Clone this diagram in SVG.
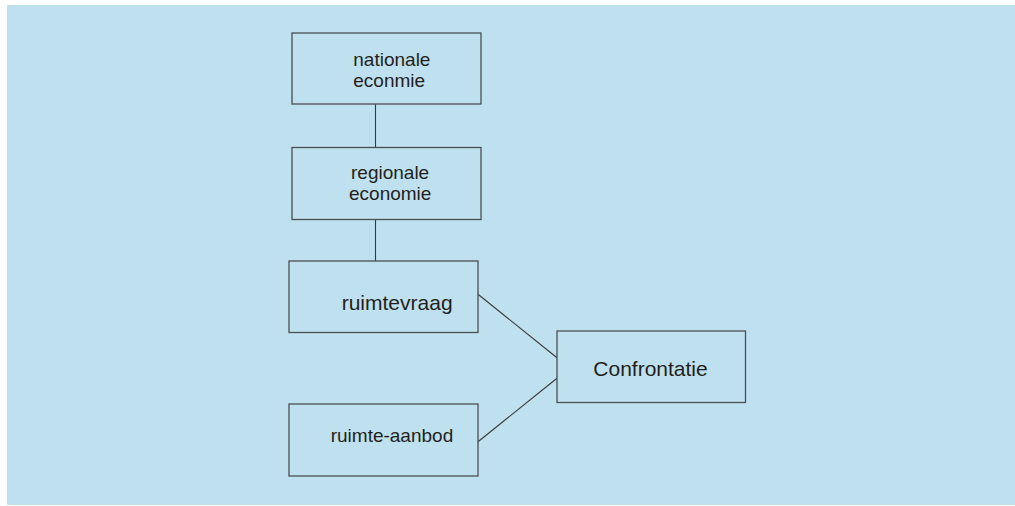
<svg xmlns="http://www.w3.org/2000/svg" width="1015" height="506" viewBox="0 0 1015 506">
<style>
.box{fill:#bfe0ef;stroke:#4a4f55;stroke-width:1.3}
.t{font-family:"Liberation Sans",Arial,sans-serif;font-size:19px;fill:#231f20}
.tl{font-size:21px}
.c{stroke:#3a3a3a;stroke-width:1.1;fill:none}
</style>
<rect x="0" y="0" width="1015" height="506" fill="#ffffff"/>
<rect x="7" y="5" width="1008" height="500" fill="#bfe0ef"/>
<g id="connectors">
<line class="c" x1="375.5" y1="104" x2="375.5" y2="147.5"/>
<line class="c" x1="375.5" y1="219.5" x2="375.5" y2="261"/>
<line class="c" x1="478" y1="294.3" x2="557" y2="357.7"/>
<line class="c" x1="478" y1="441.7" x2="557" y2="378.3"/>
</g>
<g id="nationale">
<rect class="box" x="292" y="33" width="189" height="71"/>
<text class="t" x="353.3" y="65.7">nationale</text>
<text class="t" x="353.3" y="86.7">econmie</text>
</g>
<g id="regionale">
<rect class="box" x="292" y="147.5" width="189" height="72"/>
<text class="t" x="351" y="179.3">regionale</text>
<text class="t" x="349" y="200">economie</text>
</g>
<g id="ruimtevraag">
<rect class="box" x="289" y="261" width="189" height="71.5"/>
<text class="t tl" x="341.7" y="310">ruimtevraag</text>
</g>
<g id="ruimte-aanbod">
<rect class="box" x="289" y="404" width="189" height="72"/>
<text class="t" x="330.7" y="441.7">ruimte-aanbod</text>
</g>
<g id="confrontatie">
<rect class="box" x="557" y="331" width="188.5" height="71.5"/>
<text class="t tl" x="593.3" y="376">Confrontatie</text>
</g>
</svg>
